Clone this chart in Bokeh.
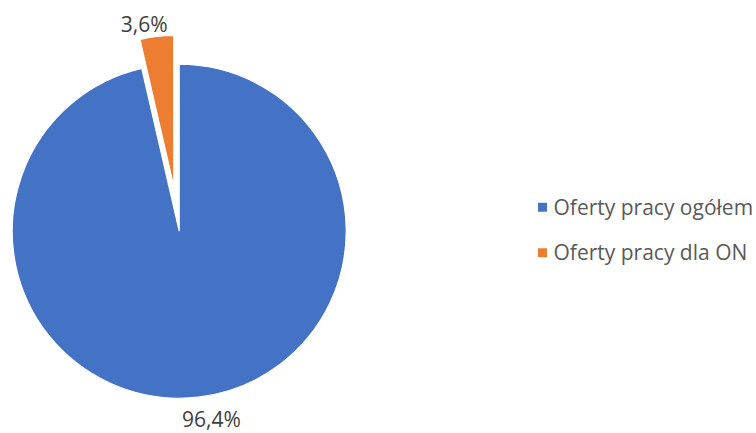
import math
from bokeh.plotting import figure
from bokeh.models import Range1d, ColumnDataSource
from bokeh.core.properties import value
from bokeh.embed import file_html
from bokeh.resources import INLINE

# ---- data ----
categories = ["Oferty pracy ogółem", "Oferty pracy dla ON"]
shares = [96.4, 3.6]
colors = ["#4472C4", "#ED7D31"]

# ---- layout (pixel-like data space) ----
W, H = 756, 433
centers_x = [178.7, 173.3]
centers_y = [202.3, 247.0]
radii = [167.0, 151.0]
label_x = [211.0, 143.7]
label_y = [15.0, 410.0]

p = figure(width=W, height=H, output_backend="svg", toolbar_location=None,
           x_range=Range1d(0, W), y_range=Range1d(0, H), min_border=0)
p.axis.visible = False
p.grid.visible = False
p.outline_line_color = None
p.background_fill_color = "white"

total = sum(shares)
starts, ends = [], []
cum = 0.0
for v in shares:
    starts.append(math.radians(90 - cum / total * 360))
    cum += v
    ends.append(math.radians(90 - cum / total * 360))

src = ColumnDataSource(dict(x=centers_x, y=centers_y, r=radii, s=starts, e=ends,
                            c=colors))
p.wedge(x="x", y="y", radius="r", start_angle="s", end_angle="e", direction="clock",
        fill_color="c", line_color="white", line_width=1.2, source=src)

labels = [f"{v:.1f}".replace(".", ",") + "%" for v in shares]
p.text(x=label_x, y=label_y, text=labels, text_font=value("Open Sans"),
       text_font_size="21px", text_color="#404040", text_align="center",
       text_baseline="alphabetic")

# legend
leg_sq_x = [542.0, 542.0]
leg_sq_y = [226.3, 180.8]
leg_tx_y = [226.2, 181.5]
p.rect(x=leg_sq_x, y=leg_sq_y, width=9, height=9, width_units="screen",
       height_units="screen", fill_color=colors, line_color=None)
p.text(x=[553.0, 553.0], y=leg_tx_y, text=categories, text_font=value("Open Sans"),
       text_font_size="21px", text_color="#595959", text_align="left",
       text_baseline="alphabetic")

open("out.html", "w").write(file_html(p, INLINE))
